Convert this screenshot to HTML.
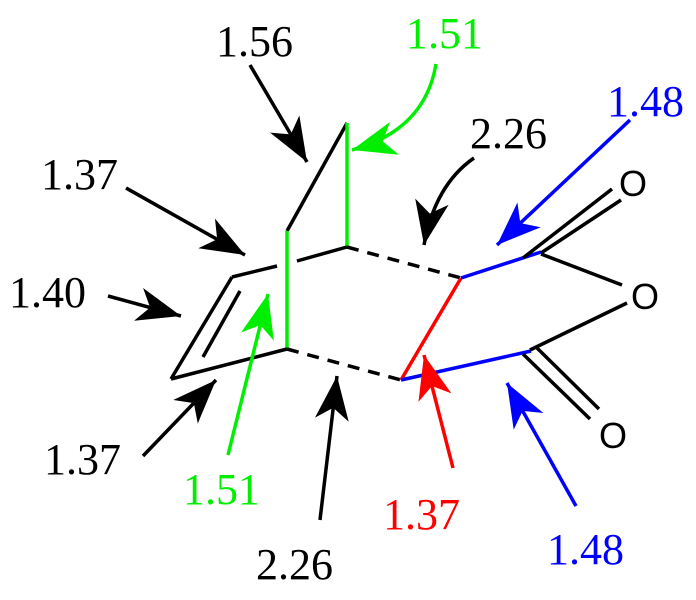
<!DOCTYPE html>
<html><head><meta charset="utf-8"><style>
html,body{margin:0;padding:0;background:#fff;}
.w{position:relative;width:696px;height:600px;overflow:hidden;}
svg{position:absolute;left:0;top:0;display:block;}
.t{position:absolute;font-family:"Liberation Serif","Times New Roman",serif;font-size:44px;line-height:44px;white-space:nowrap;}
.o{position:absolute;font-family:"Liberation Sans",Arial,sans-serif;font-size:36px;line-height:36px;}
</style></head><body><div class="w">
<svg width="696" height="600" viewBox="0 0 696 600" xmlns="http://www.w3.org/2000/svg">
<defs>
<marker id="ak" markerUnits="userSpaceOnUse" markerWidth="50" markerHeight="40" refX="44" refY="17" orient="auto"><path d="M44,17 L0,0 L12,17 L0,34 Z" fill="#000"/></marker>
<marker id="ag" markerUnits="userSpaceOnUse" markerWidth="50" markerHeight="40" refX="44" refY="17" orient="auto"><path d="M44,17 L0,0 L12,17 L0,34 Z" fill="#00ee00"/></marker>
<marker id="ab" markerUnits="userSpaceOnUse" markerWidth="50" markerHeight="40" refX="44" refY="17" orient="auto"><path d="M44,17 L0,0 L12,17 L0,34 Z" fill="#0000ff"/></marker>
<marker id="ar" markerUnits="userSpaceOnUse" markerWidth="50" markerHeight="40" refX="44" refY="17" orient="auto"><path d="M44,17 L0,0 L12,17 L0,34 Z" fill="#ff0000"/></marker>
</defs>
<g stroke-width="3.5" fill="none" stroke-linecap="butt">
<line x1="347" y1="123" x2="287" y2="231" stroke="#000"/>
<line x1="347" y1="123" x2="347" y2="247" stroke="#00ee00"/>
<line x1="287" y1="231" x2="287" y2="350" stroke="#00ee00"/>
<line x1="347" y1="247" x2="297" y2="261" stroke="#000"/>
<line x1="277" y1="266" x2="232" y2="277" stroke="#000"/>
<line x1="232" y1="277" x2="171" y2="379" stroke="#000"/>
<line x1="240" y1="291" x2="203" y2="357" stroke="#000"/>
<line x1="171" y1="379" x2="287" y2="349" stroke="#000"/>
<line x1="347" y1="247" x2="461" y2="278" stroke="#000" stroke-dasharray="12,9"/>
<line x1="287" y1="349" x2="401" y2="380" stroke="#000" stroke-dasharray="12,9"/>
<line x1="461" y1="278" x2="401" y2="380" stroke="#ff0000"/>
<line x1="461" y1="278" x2="541" y2="252" stroke="#0000ff"/>
<line x1="401" y1="380" x2="531" y2="351" stroke="#0000ff"/>
<line x1="523" y1="258" x2="612" y2="189" stroke="#000"/>
<line x1="541" y1="253" x2="621" y2="200" stroke="#000"/>
<line x1="541" y1="254" x2="622" y2="285" stroke="#000"/>
<line x1="530" y1="350" x2="627" y2="303" stroke="#000"/>
<line x1="523" y1="354" x2="590" y2="419" stroke="#000"/>
<line x1="537" y1="348" x2="599" y2="409" stroke="#000"/>
<line x1="250" y1="65" x2="307" y2="162" stroke="#000" marker-end="url(#ak)"/>
<line x1="126" y1="188" x2="245" y2="255" stroke="#000" marker-end="url(#ak)"/>
<line x1="108" y1="296" x2="181" y2="316" stroke="#000" marker-end="url(#ak)"/>
<line x1="143" y1="456" x2="216" y2="380" stroke="#000" marker-end="url(#ak)"/>
<line x1="228" y1="455" x2="268" y2="294" stroke="#00ee00" marker-end="url(#ag)"/>
<line x1="320" y1="520" x2="337" y2="376" stroke="#000" marker-end="url(#ak)"/>
<line x1="453" y1="468" x2="424" y2="355" stroke="#ff0000" marker-end="url(#ar)"/>
<line x1="576" y1="506" x2="507" y2="383" stroke="#0000ff" marker-end="url(#ab)"/>
<line x1="630" y1="120" x2="497" y2="245" stroke="#0000ff" marker-end="url(#ab)"/>
<path d="M436,64 Q425,130 352,150" stroke="#00ee00" marker-end="url(#ag)"/>
<path d="M474,158 Q435,185 424,245" stroke="#000" marker-end="url(#ak)"/>
</g>
</svg>
<div class="t" style="left:216px;top:20px;color:#000">1.56</div>
<div class="t" style="left:406px;top:12px;color:#00ee00">1.51</div>
<div class="t" style="left:470px;top:112px;color:#000">2.26</div>
<div class="t" style="left:607px;top:80px;color:#0000ff">1.48</div>
<div class="t" style="left:41px;top:153px;color:#000">1.37</div>
<div class="t" style="left:9px;top:271px;color:#000">1.40</div>
<div class="t" style="left:44px;top:438px;color:#000">1.37</div>
<div class="t" style="left:183px;top:468px;color:#00ee00">1.51</div>
<div class="t" style="left:256px;top:543px;color:#000">2.26</div>
<div class="t" style="left:383px;top:493px;color:#ff0000">1.37</div>
<div class="t" style="left:547px;top:528px;color:#0000ff">1.48</div>
<div class="o" style="left:619px;top:166px">O</div>
<div class="o" style="left:631px;top:279px">O</div>
<div class="o" style="left:599px;top:418px">O</div>
</div></body></html>
